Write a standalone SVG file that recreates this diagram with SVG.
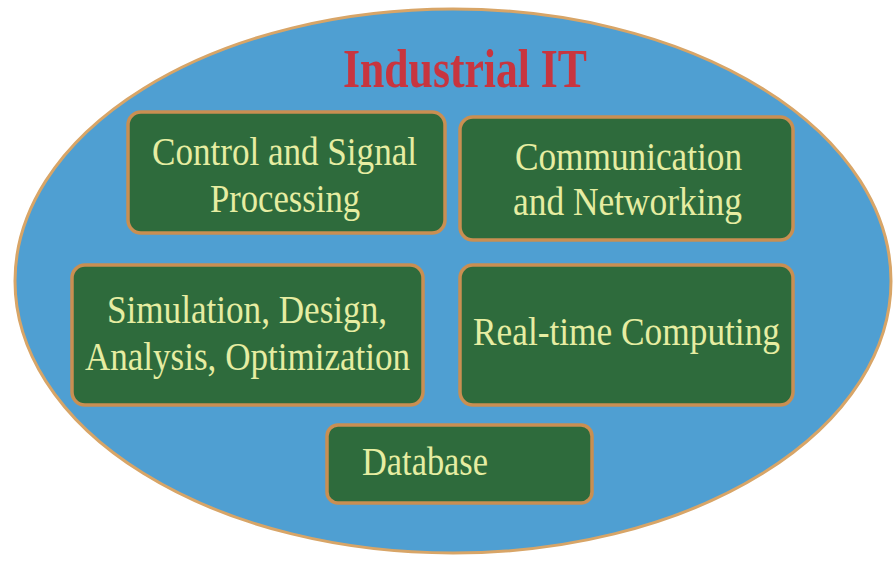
<svg xmlns="http://www.w3.org/2000/svg" width="896" height="561" viewBox="0 0 896 561">
<style>
.bg{fill:#ffffff}
.oval{fill:#4f9fd2;stroke:#d8a567;stroke-width:3}
.box{fill:#2e6b3c;stroke:#c98f52;stroke-width:3.5}
.lbl{font-family:"Liberation Serif","Times New Roman",serif;font-size:40px;fill:#e6eda2}
.title{font-family:"Liberation Serif","Times New Roman",serif;font-size:54px;font-weight:bold;fill:#c8353f}
</style>
<rect class="bg" x="0" y="0" width="896" height="561"/>
<g id="industrial-it">
<ellipse class="oval" cx="453" cy="281" rx="438" ry="272"/>
<text class="title" x="343" y="87" textLength="244" lengthAdjust="spacingAndGlyphs">Industrial IT</text>
</g>
<g id="connectors"></g>
<g id="control">
<rect class="box" x="128" y="112" width="317" height="121" rx="13"/>
<text class="lbl" x="152" y="165" textLength="265" lengthAdjust="spacingAndGlyphs">Control and Signal</text>
<text class="lbl" x="210" y="212" textLength="150" lengthAdjust="spacingAndGlyphs">Processing</text>
</g>
<g id="communication">
<rect class="box" x="460" y="117" width="333" height="123" rx="13"/>
<text class="lbl" x="515" y="170" textLength="227" lengthAdjust="spacingAndGlyphs">Communication</text>
<text class="lbl" x="513" y="215" textLength="229" lengthAdjust="spacingAndGlyphs">and Networking</text>
</g>
<g id="simulation">
<rect class="box" x="72" y="265" width="351" height="140" rx="13"/>
<text class="lbl" x="107" y="323" textLength="280" lengthAdjust="spacingAndGlyphs">Simulation, Design,</text>
<text class="lbl" x="85" y="370" textLength="325" lengthAdjust="spacingAndGlyphs">Analysis, Optimization</text>
</g>
<g id="realtime">
<rect class="box" x="460" y="265" width="333" height="140" rx="13"/>
<text class="lbl" x="473" y="345" textLength="307" lengthAdjust="spacingAndGlyphs">Real-time Computing</text>
</g>
<g id="database">
<rect class="box" x="327" y="425" width="265" height="78" rx="11"/>
<text class="lbl" x="362" y="475" textLength="126" lengthAdjust="spacingAndGlyphs">Database</text>
</g>
</svg>
